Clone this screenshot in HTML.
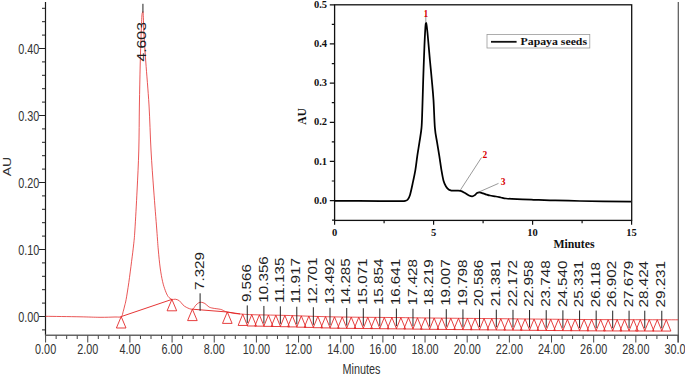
<!DOCTYPE html>
<html><head><meta charset="utf-8"><title>Chromatogram</title>
<style>html,body{margin:0;padding:0;background:#fff;}body{width:685px;height:376px;overflow:hidden;}svg{display:block;}</style>
</head><body>
<svg width="685" height="376" viewBox="0 0 685 376"><g fill="none">
<line x1="45.5" y1="2" x2="45.5" y2="335.5" stroke="#1a1a1a" stroke-width="1.2"/>
<line x1="45" y1="335.2" x2="678.9" y2="335.2" stroke="#666" stroke-width="1.5"/>
<line x1="678.3" y1="2" x2="678.3" y2="342.5" stroke="#555" stroke-width="1.2"/>
<path d="M42 329.9H45.5 M39 316.5H45.5 M42 303.1H45.5 M42 289.7H45.5 M42 276.3H45.5 M42 262.9H45.5 M39 249.5H45.5 M42 236.1H45.5 M42 222.7H45.5 M42 209.3H45.5 M42 195.9H45.5 M39 182.5H45.5 M42 169.1H45.5 M42 155.7H45.5 M42 142.3H45.5 M42 128.9H45.5 M39 115.5H45.5 M42 102.1H45.5 M42 88.7H45.5 M42 75.3H45.5 M42 61.9H45.5 M39 48.5H45.5 M42 35.1H45.5 M42 21.7H45.5 M42 8.3H45.5" stroke="#222" stroke-width="1"/>
<path d="M45.6 335.5V342.5 M56.14 335.5V339 M66.68 335.5V339 M77.22 335.5V339 M87.76 335.5V342.5 M98.3 335.5V339 M108.84 335.5V339 M119.38 335.5V339 M129.92 335.5V342.5 M140.46 335.5V339 M151 335.5V339 M161.54 335.5V339 M172.08 335.5V342.5 M182.62 335.5V339 M193.16 335.5V339 M203.7 335.5V339 M214.24 335.5V342.5 M224.78 335.5V339 M235.32 335.5V339 M245.86 335.5V339 M256.4 335.5V342.5 M266.94 335.5V339 M277.48 335.5V339 M288.02 335.5V339 M298.56 335.5V342.5 M309.1 335.5V339 M319.64 335.5V339 M330.18 335.5V339 M340.72 335.5V342.5 M351.26 335.5V339 M361.8 335.5V339 M372.34 335.5V339 M382.88 335.5V342.5 M393.42 335.5V339 M403.96 335.5V339 M414.5 335.5V339 M425.04 335.5V342.5 M435.58 335.5V339 M446.12 335.5V339 M456.66 335.5V339 M467.2 335.5V342.5 M477.74 335.5V339 M488.28 335.5V339 M498.82 335.5V339 M509.36 335.5V342.5 M519.9 335.5V339 M530.44 335.5V339 M540.98 335.5V339 M551.52 335.5V342.5 M562.06 335.5V339 M572.6 335.5V339 M583.14 335.5V339 M593.68 335.5V342.5 M604.22 335.5V339 M614.76 335.5V339 M625.3 335.5V339 M635.84 335.5V342.5 M646.38 335.5V339 M656.92 335.5V339 M667.46 335.5V339 M678 335.5V342.5" stroke="#444" stroke-width="1"/>
</g>
<g font-family="Liberation Sans, sans-serif" font-size="14" fill="#333"><text transform="translate(39.4 321.5) scale(0.775 1)" text-anchor="end">0.00</text><text transform="translate(39.4 254.5) scale(0.775 1)" text-anchor="end">0.10</text><text transform="translate(39.4 187.5) scale(0.775 1)" text-anchor="end">0.20</text><text transform="translate(39.4 120.5) scale(0.775 1)" text-anchor="end">0.30</text><text transform="translate(39.4 53.5) scale(0.775 1)" text-anchor="end">0.40</text><text transform="translate(45.6 353.5) scale(0.775 1)" text-anchor="middle">0.00</text><text transform="translate(87.76 353.5) scale(0.775 1)" text-anchor="middle">2.00</text><text transform="translate(129.92 353.5) scale(0.775 1)" text-anchor="middle">4.00</text><text transform="translate(172.08 353.5) scale(0.775 1)" text-anchor="middle">6.00</text><text transform="translate(214.24 353.5) scale(0.775 1)" text-anchor="middle">8.00</text><text transform="translate(256.4 353.5) scale(0.775 1)" text-anchor="middle">10.00</text><text transform="translate(298.56 353.5) scale(0.775 1)" text-anchor="middle">12.00</text><text transform="translate(340.72 353.5) scale(0.775 1)" text-anchor="middle">14.00</text><text transform="translate(382.88 353.5) scale(0.775 1)" text-anchor="middle">16.00</text><text transform="translate(425.04 353.5) scale(0.775 1)" text-anchor="middle">18.00</text><text transform="translate(467.2 353.5) scale(0.775 1)" text-anchor="middle">20.00</text><text transform="translate(509.36 353.5) scale(0.775 1)" text-anchor="middle">22.00</text><text transform="translate(551.52 353.5) scale(0.775 1)" text-anchor="middle">24.00</text><text transform="translate(593.68 353.5) scale(0.775 1)" text-anchor="middle">26.00</text><text transform="translate(635.84 353.5) scale(0.775 1)" text-anchor="middle">28.00</text><text transform="translate(678 353.5) scale(0.775 1)" text-anchor="middle">30.00</text><text transform="translate(361.5 373.5) scale(0.775 1)" text-anchor="middle">Minutes</text><text transform="translate(10.9 166.6) rotate(-90) scale(1 0.775)" text-anchor="middle">AU</text></g>
<g><path d="M45.5 316.3 C51.25 316.38 70.92 316.63 80 316.8 C89.08 316.97 94.17 317.27 100 317.3 C105.83 317.33 111.47 317.12 115 317 C118.53 316.88 119.83 317.52 121.2 316.6 C122.57 315.68 122.63 313.27 123.2 311.5 C123.77 309.73 124.12 307.98 124.6 306 C125.08 304.02 125.4 303.5 126.1 299.6 C126.8 295.7 127.88 288.98 128.8 282.6 C129.72 276.22 130.8 267.57 131.6 261.3 C132.4 255.03 133.05 250.22 133.6 245 C134.15 239.78 134.32 239.17 134.9 230 C135.48 220.83 136.45 203.33 137.1 190 C137.75 176.67 138.42 164.17 138.8 150 C139.18 135.83 139.17 119.17 139.4 105 C139.63 90.83 139.92 76.67 140.2 65 C140.48 53.33 140.82 43.17 141.1 35 C141.38 26.83 141.65 19.77 141.9 16 C142.15 12.23 142.38 12.73 142.6 12.4 C142.82 12.07 142.97 10.23 143.2 14 C143.43 17.77 143.57 27 144 35 C144.43 43 144.97 50.33 145.8 62 C146.63 73.67 148.13 90.33 149 105 C149.87 119.67 150.22 135.83 151 150 C151.78 164.17 152.73 176.67 153.7 190 C154.67 203.33 156.03 220 156.8 230 C157.57 240 157.73 243.67 158.3 250 C158.87 256.33 159.48 262.73 160.2 268 C160.92 273.27 161.75 277.85 162.6 281.6 C163.45 285.35 164.37 288 165.3 290.5 C166.23 293 167.1 295.12 168.2 296.6 C169.3 298.08 170.73 298.97 171.9 299.4 C173.07 299.83 173.97 298.98 175.2 299.2 C176.43 299.42 178.02 299.77 179.3 300.7 C180.58 301.63 181.7 303.68 182.9 304.8 C184.1 305.92 184.92 306.67 186.5 307.4 C188.08 308.13 190.87 309.55 192.4 309.2 C193.93 308.85 194.65 306.37 195.7 305.3 C196.75 304.23 197.77 303.3 198.7 302.8 C199.63 302.3 200.27 302.18 201.3 302.3 C202.33 302.42 203.63 302.73 204.9 303.5 C206.17 304.27 207.55 306.12 208.9 306.9 C210.25 307.68 211.03 307.78 213 308.2 C214.97 308.62 218.82 308.93 220.7 309.4 C222.58 309.87 223.2 310.57 224.3 311 C225.4 311.43 225.52 311.58 227.3 312 C229.08 312.42 232.55 313.15 235 313.5 C237.45 313.85 239.17 313.9 242 314.1 C244.83 314.3 244.83 314.48 252 314.7 C259.17 314.92 271.17 315.03 285 315.4 C298.83 315.77 315.83 316.53 335 316.9 C354.17 317.27 384.17 317.42 400 317.6 C415.83 317.78 415 317.83 430 318 C445 318.17 468.33 318.38 490 318.6 C511.67 318.82 541.67 319.13 560 319.3 C578.33 319.47 580.33 319.52 600 319.6 C619.67 319.68 665 319.77 678 319.8" stroke="#e21e1e" stroke-width="0.75" fill="none"/><path d="M121.2 316.6L171.9 299.4M192.4 309.2L227.3 312L240 313.9" stroke="#e21e1e" stroke-width="0.9" fill="none"/><path d="M121.2 316.6L126 328H116.4Z M171.9 299.4L176.7 310.8H167.1Z M192.4 309.2L197.2 320.6H187.6Z M227.3 312L232.1 323.4H222.5Z M242.75 314.15L247.35 325.45H238.15Z M251.75 314.69L256.35 325.99H247.15Z M259.4 314.86L264 326.16H254.8Z M268.4 315.05L273 326.35H263.8Z M275.83 315.21L280.43 326.51H271.23Z M284.83 315.4L289.43 326.7H280.23Z M292.31 315.62L296.91 326.92H287.71Z M301.31 315.89L305.91 327.19H296.71Z M308.84 316.12L313.44 327.42H304.24Z M317.84 316.39L322.44 327.69H313.24Z M325.51 316.62L330.11 327.92H320.91Z M334.51 316.89L339.11 328.19H329.91Z M342.23 316.98L346.83 328.28H337.63Z M351.23 317.07L355.83 328.37H346.63Z M358.8 317.16L363.4 328.46H354.2Z M367.8 317.25L372.4 328.55H363.2Z M375.3 317.33L379.9 328.63H370.7Z M384.3 317.43L388.9 328.73H379.7Z M391.89 317.51L396.49 328.81H387.29Z M400.89 317.61L405.49 328.91H396.29Z M408.48 317.71L413.08 329.01H403.88Z M417.48 317.83L422.08 329.13H412.88Z M425.16 317.94L429.76 329.24H420.56Z M434.16 318.04L438.76 329.34H429.56Z M441.77 318.12L446.37 329.42H437.17Z M450.77 318.21L455.37 329.51H446.17Z M458.44 318.28L463.04 329.58H453.84Z M467.44 318.37L472.04 329.67H462.84Z M475.05 318.45L479.65 329.75H470.45Z M484.05 318.54L488.65 329.84H479.45Z M491.81 318.62L496.41 329.92H487.21Z M500.81 318.71L505.41 330.01H496.21Z M508.49 318.78L513.09 330.08H503.89Z M517.49 318.87L522.09 330.17H512.89Z M525.05 318.95L529.65 330.25H520.45Z M534.05 319.04L538.65 330.34H529.45Z M541.71 319.12L546.31 330.42H537.11Z M550.71 319.21L555.31 330.51H546.11Z M558.4 319.28L563 330.58H553.8Z M567.4 319.36L572 330.66H562.8Z M575.08 319.41L579.68 330.71H570.48Z M584.08 319.48L588.68 330.78H579.48Z M591.67 319.54L596.27 330.84H587.07Z M600.67 319.6L605.27 330.9H596.07Z M608.19 319.62L612.79 330.92H603.59Z M617.19 319.64L621.79 330.94H612.59Z M624.57 319.66L629.17 330.96H619.97Z M633.57 319.69L638.17 330.99H628.97Z M640.28 319.7L644.88 331H635.68Z M649.28 319.73L653.88 331.03H644.68Z M657.29 319.75L661.89 331.05H652.69Z M666.29 319.77L670.89 331.07H661.69Z" stroke="#e21e1e" stroke-width="0.85" fill="none"/></g>
<path d="M142.93 3.8V12.6 M200.1 293.3V310.8 M247.25 305.42V322.92 M263.9 305.95V323.45 M280.33 306.3V323.8 M296.81 306.75V324.25 M313.34 307.25V324.75 M330.01 307.75V325.25 M346.73 308.03V325.53 M363.3 308.2V325.7 M379.8 308.38V325.88 M396.39 308.56V326.06 M412.98 308.77V326.27 M429.66 309V326.5 M446.27 309.16V326.66 M462.94 309.33V326.83 M479.55 309.5V327 M496.31 309.66V327.16 M512.99 309.83V327.33 M529.55 310V327.5 M546.21 310.16V327.66 M562.9 310.32V327.82 M579.58 310.45V327.95 M596.17 310.57V328.07 M612.69 310.63V328.13 M629.07 310.67V328.17 M644.78 310.71V328.21 M661.79 310.76V328.26" stroke="#222" stroke-width="1" fill="none"/>
<g font-family="Liberation Sans, sans-serif" font-size="15.2" fill="#1e1e1e"><text transform="translate(146.33 61.6) scale(0.85 1) rotate(-90)" font-size="15.8">4.603</text><text transform="translate(203.7 290) scale(0.85 1) rotate(-90)">7.329</text><text transform="translate(250.85 302.12) scale(0.85 1) rotate(-90)">9.566</text><text transform="translate(267.5 302.65) scale(0.85 1) rotate(-90)">10.356</text><text transform="translate(283.93 303) scale(0.85 1) rotate(-90)">11.135</text><text transform="translate(300.41 303.45) scale(0.85 1) rotate(-90)">11.917</text><text transform="translate(316.94 303.95) scale(0.85 1) rotate(-90)">12.701</text><text transform="translate(333.61 304.45) scale(0.85 1) rotate(-90)">13.492</text><text transform="translate(350.33 304.73) scale(0.85 1) rotate(-90)">14.285</text><text transform="translate(366.9 304.9) scale(0.85 1) rotate(-90)">15.071</text><text transform="translate(383.4 305.08) scale(0.85 1) rotate(-90)">15.854</text><text transform="translate(399.99 305.26) scale(0.85 1) rotate(-90)">16.641</text><text transform="translate(416.58 305.47) scale(0.85 1) rotate(-90)">17.428</text><text transform="translate(433.26 305.7) scale(0.85 1) rotate(-90)">18.219</text><text transform="translate(449.87 305.86) scale(0.85 1) rotate(-90)">19.007</text><text transform="translate(466.54 306.03) scale(0.85 1) rotate(-90)">19.798</text><text transform="translate(483.15 306.2) scale(0.85 1) rotate(-90)">20.586</text><text transform="translate(499.91 306.36) scale(0.85 1) rotate(-90)">21.381</text><text transform="translate(516.59 306.53) scale(0.85 1) rotate(-90)">22.172</text><text transform="translate(533.15 306.7) scale(0.85 1) rotate(-90)">22.958</text><text transform="translate(549.81 306.86) scale(0.85 1) rotate(-90)">23.748</text><text transform="translate(566.5 307.02) scale(0.85 1) rotate(-90)">24.540</text><text transform="translate(583.18 307.15) scale(0.85 1) rotate(-90)">25.331</text><text transform="translate(599.77 307.27) scale(0.85 1) rotate(-90)">26.118</text><text transform="translate(616.29 307.33) scale(0.85 1) rotate(-90)">26.902</text><text transform="translate(632.67 307.37) scale(0.85 1) rotate(-90)">27.679</text><text transform="translate(648.38 307.41) scale(0.85 1) rotate(-90)">28.424</text><text transform="translate(665.39 307.46) scale(0.85 1) rotate(-90)">29.231</text></g>
<g><rect x="334.6" y="4.8" width="297.1" height="215.6" fill="#fff" stroke="#111" stroke-width="1.3"/><path d="M332 220.18H334.6 M329.8 200.6H334.6 M331.8 181.02H334.6 M329.8 161.44H334.6 M331.8 141.86H334.6 M329.8 122.28H334.6 M331.8 102.7H334.6 M329.8 83.12H334.6 M331.8 63.54H334.6 M329.8 43.96H334.6 M331.8 24.38H334.6 M329.8 4.8H334.6 M334.6 220.4V224.8 M384.1 220.4V223.3 M433.6 220.4V224.8 M483.1 220.4V223.3 M532.6 220.4V224.8 M582.1 220.4V223.3 M631.6 220.4V224.8" stroke="#111" stroke-width="1.2" fill="none"/><g font-family="Liberation Serif, serif" font-weight="bold" font-size="10.5" fill="#111"><text x="327.1" y="203.7" text-anchor="end">0.0</text><text x="327.1" y="164.54" text-anchor="end">0.1</text><text x="327.1" y="125.38" text-anchor="end">0.2</text><text x="327.1" y="86.22" text-anchor="end">0.3</text><text x="327.1" y="47.06" text-anchor="end">0.4</text><text x="327.1" y="7.9" text-anchor="end">0.5</text><text x="334.6" y="236" text-anchor="middle">0</text><text x="433.6" y="236" text-anchor="middle">5</text><text x="532.6" y="236" text-anchor="middle">10</text><text x="631.6" y="236" text-anchor="middle">15</text><text x="553.4" y="248.4" font-size="11.5" textLength="41.2" lengthAdjust="spacingAndGlyphs">Minutes</text><text transform="translate(306 116.5) rotate(-90)" text-anchor="middle" font-size="11.5">AU</text><text x="520.6" y="45.3" font-size="11.2" textLength="66.4" lengthAdjust="spacingAndGlyphs">Papaya seeds</text></g><rect x="487" y="34.5" width="102.8" height="13.5" fill="none" stroke="#999" stroke-width="0.8"/><line x1="491" y1="41.8" x2="516.6" y2="41.8" stroke="#111" stroke-width="1.8"/><path d="M334.6 200.9 C342.17 200.92 369.1 200.97 380 201 C390.9 201.03 395.8 201.12 400 201.1 C404.2 201.08 403.9 201.17 405.2 200.9 C406.5 200.63 407 200.5 407.8 199.5 C408.6 198.5 409.2 197.53 410 194.9 C410.8 192.27 411.7 187.88 412.6 183.7 C413.5 179.52 414.62 174.45 415.4 169.8 C416.18 165.15 416.62 160.45 417.3 155.8 C417.98 151.15 418.8 146.55 419.5 141.9 C420.2 137.25 421.03 133.22 421.5 127.9 C421.97 122.58 422.02 117.98 422.3 110 C422.58 102.02 422.93 88.33 423.2 80 C423.47 71.67 423.63 67 423.9 60 C424.17 53 424.48 44.1 424.8 38 C425.12 31.9 425.4 24.73 425.8 23.4 C426.2 22.07 426.52 23.9 427.2 30 C427.88 36.1 429.13 51.67 429.9 60 C430.67 68.33 431.2 73.33 431.8 80 C432.4 86.67 432.98 92.02 433.5 100 C434.02 107.98 434.32 120.92 434.9 127.9 C435.48 134.88 436.27 137.25 437 141.9 C437.73 146.55 438.57 151.15 439.3 155.8 C440.03 160.45 440.68 165.6 441.4 169.8 C442.12 174 442.83 178.22 443.6 181 C444.37 183.78 445.1 185.03 446 186.5 C446.9 187.97 448 189.12 449 189.8 C450 190.48 451 190.45 452 190.6 C453 190.75 453.58 190.67 455 190.7 C456.42 190.73 458.83 190.42 460.5 190.8 C462.17 191.18 463.58 192.22 465 193 C466.42 193.78 467.8 194.93 469 195.5 C470.2 196.07 471.2 196.48 472.2 196.4 C473.2 196.32 474.2 195.57 475 195 C475.8 194.43 476.25 193.43 477 193 C477.75 192.57 478.5 192.35 479.5 192.4 C480.5 192.45 481.75 192.92 483 193.3 C484.25 193.68 485.83 194.33 487 194.7 C488.17 195.07 488.5 195.2 490 195.5 C491.5 195.8 494.17 196.17 496 196.5 C497.83 196.83 499.33 197.17 501 197.5 C502.67 197.83 503.33 198.22 506 198.5 C508.67 198.78 512.4 198.98 517 199.2 C521.6 199.42 528.1 199.62 533.6 199.8 C539.1 199.98 542.27 200.1 550 200.3 C557.73 200.5 566.5 200.78 580 201 C593.5 201.22 622.5 201.5 631 201.6" stroke="#000" stroke-width="1.75" fill="none" stroke-linejoin="round"/><path d="M425.8 22V15.5M460.3 190.2L481.5 157.5M478.5 192.2L498.5 183.4" stroke="#555" stroke-width="0.6" fill="none"/><g font-family="Liberation Serif, serif" font-weight="bold" font-size="9.5" fill="#d80000"><text x="425.8" y="16.8" text-anchor="middle">1</text><text x="484.8" y="158" text-anchor="middle">2</text><text x="503" y="184.8" text-anchor="middle">3</text></g></g></svg>
</body></html>
